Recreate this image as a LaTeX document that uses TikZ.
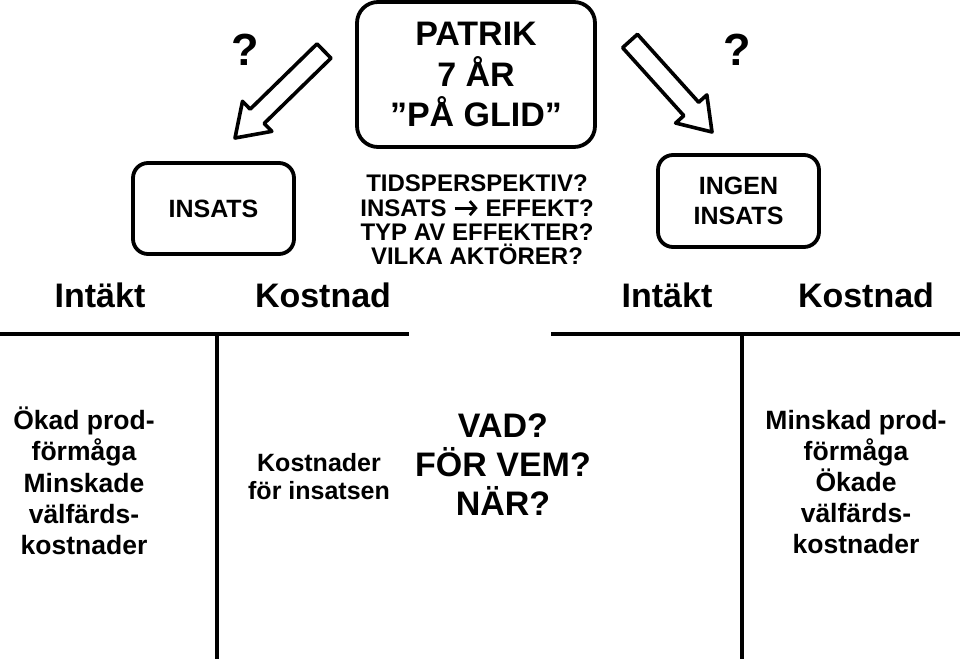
\documentclass[tikz,border=0pt]{standalone}
\usepackage{fontspec}
\setmainfont{Liberation Sans}
\usetikzlibrary{calc,arrows.meta}
\tikzset{
  rbox/.style={draw, line width=3.8pt, rounded corners=15pt, inner sep=0pt, align=center},
  bigtxt/.style={font=\fontsize{34}{40.5}\selectfont\bfseries, align=center, inner sep=0pt},
  boxtxt/.style={font=\fontsize{25}{30}\selectfont\bfseries},
  hdr/.style={font=\fontsize{34}{40}\selectfont\bfseries, inner sep=0pt, anchor=base},
  qtxt/.style={font=\fontsize{24}{24.3}\selectfont\bfseries, align=center, inner sep=0pt},
  coltxt/.style={font=\fontsize{26.5}{31.2}\selectfont\bfseries, align=center, inner sep=0pt},
  midtxt/.style={font=\fontsize{25}{28}\selectfont\bfseries, align=center, inner sep=0pt},
  vadtxt/.style={font=\fontsize{34}{39}\selectfont\bfseries, align=center, inner sep=0pt},
  qmark/.style={font=\fontsize{45}{50}\selectfont\bfseries, inner sep=0pt, anchor=base},
  tline/.style={line width=3.6pt},
  blockarr/.style={draw, line width=3.6pt, line join=round, fill=white}
}
\newcommand{\mytxtarrow}{\tikz[x=1pt,y=1pt,baseline=0pt]\draw[line width=2.8pt,-{Straight Barb[length=6pt,width=14pt,line width=2.8pt]}] (0,8) -- (23,8);}
\begin{document}
\begin{tikzpicture}[x=1pt,y=-1pt]
\useasboundingbox (0,0) rectangle (960,659);
% main box
\node[rbox, rounded corners=21pt, minimum width=238pt, minimum height=145pt, bigtxt] (patrik) at (476,74.5)
  {PATRIK\\7 ÅR\\”PÅ GLID”};
% side boxes
\node[rbox, minimum width=161pt, minimum height=91pt, boxtxt] (insats) at (213.5,208.5) {INSATS};
\node[rbox, minimum width=161pt, minimum height=92pt, boxtxt] (ingen) at (738.5,201) {INGEN\\INSATS};
% question marks
\node[qmark] (q1) at (245,65) {?};
\node[qmark] (q2) at (737,65) {?};
% block arrows
\coordinate (lT) at (324,51);
\coordinate (lP) at (235,138);
\coordinate (lB) at ($(lP)!31pt!(lT)$);
\draw[blockarr] ($(lT)!10pt!90:(lP)$) -- ($(lB)!10pt!90:(lP)$) -- ($(lB)!21pt!90:(lP)$) -- (lP)
  -- ($(lB)!21pt!-90:(lP)$) -- ($(lB)!10pt!-90:(lP)$) -- ($(lT)!10pt!-90:(lP)$) -- cycle;
\coordinate (rT) at (630,41);
\coordinate (rP) at (712,132);
\coordinate (rB) at ($(rP)!31pt!(rT)$);
\draw[blockarr] ($(rT)!10pt!90:(rP)$) -- ($(rB)!10pt!90:(rP)$) -- ($(rB)!21pt!90:(rP)$) -- (rP)
  -- ($(rB)!21pt!-90:(rP)$) -- ($(rB)!10pt!-90:(rP)$) -- ($(rT)!10pt!-90:(rP)$) -- cycle;
% questions
\node[qtxt] (questions) at (477,220)
  {TIDSPERSPEKTIV?\\INSATS \mytxtarrow{} EFFEKT?\\TYP AV EFFEKTER?\\VILKA AKTÖRER?};
% headers
\node[hdr] (h1) at (100,307) {Intäkt};
\node[hdr] (h2) at (323,307) {Kostnad};
\node[hdr] (h3) at (667,307) {Intäkt};
\node[hdr] (h4) at (866,307) {Kostnad};
% T-accounts
\coordinate (l0) at (0,334);
\coordinate (l1) at (409,334);
\coordinate (lv0) at (217,334);
\coordinate (lv1) at (217,659);
\coordinate (r0) at (551,334);
\coordinate (r1) at (960,334);
\coordinate (rv0) at (742,334);
\coordinate (rv1) at (742,659);
\draw[tline] (l0) -- (l1);
\draw[tline] (lv0) -- (lv1);
\draw[tline] (r0) -- (r1);
\draw[tline] (rv0) -- (rv1);
% column texts
\node[coltxt] (lefttxt) at (84,481)
  {Ökad prod-\\förmåga\\Minskade\\välfärds-\\kostnader};
\node[midtxt] (kost) at (319,477) {Kostnader\\för insatsen};
\node[vadtxt] (vad) at (503,465) {VAD?\\FÖR VEM?\\NÄR?};
\node[coltxt] (righttxt) at (856,482)
  {Minskad prod-\\förmåga\\Ökade\\välfärds-\\kostnader};
\end{tikzpicture}
\end{document}
